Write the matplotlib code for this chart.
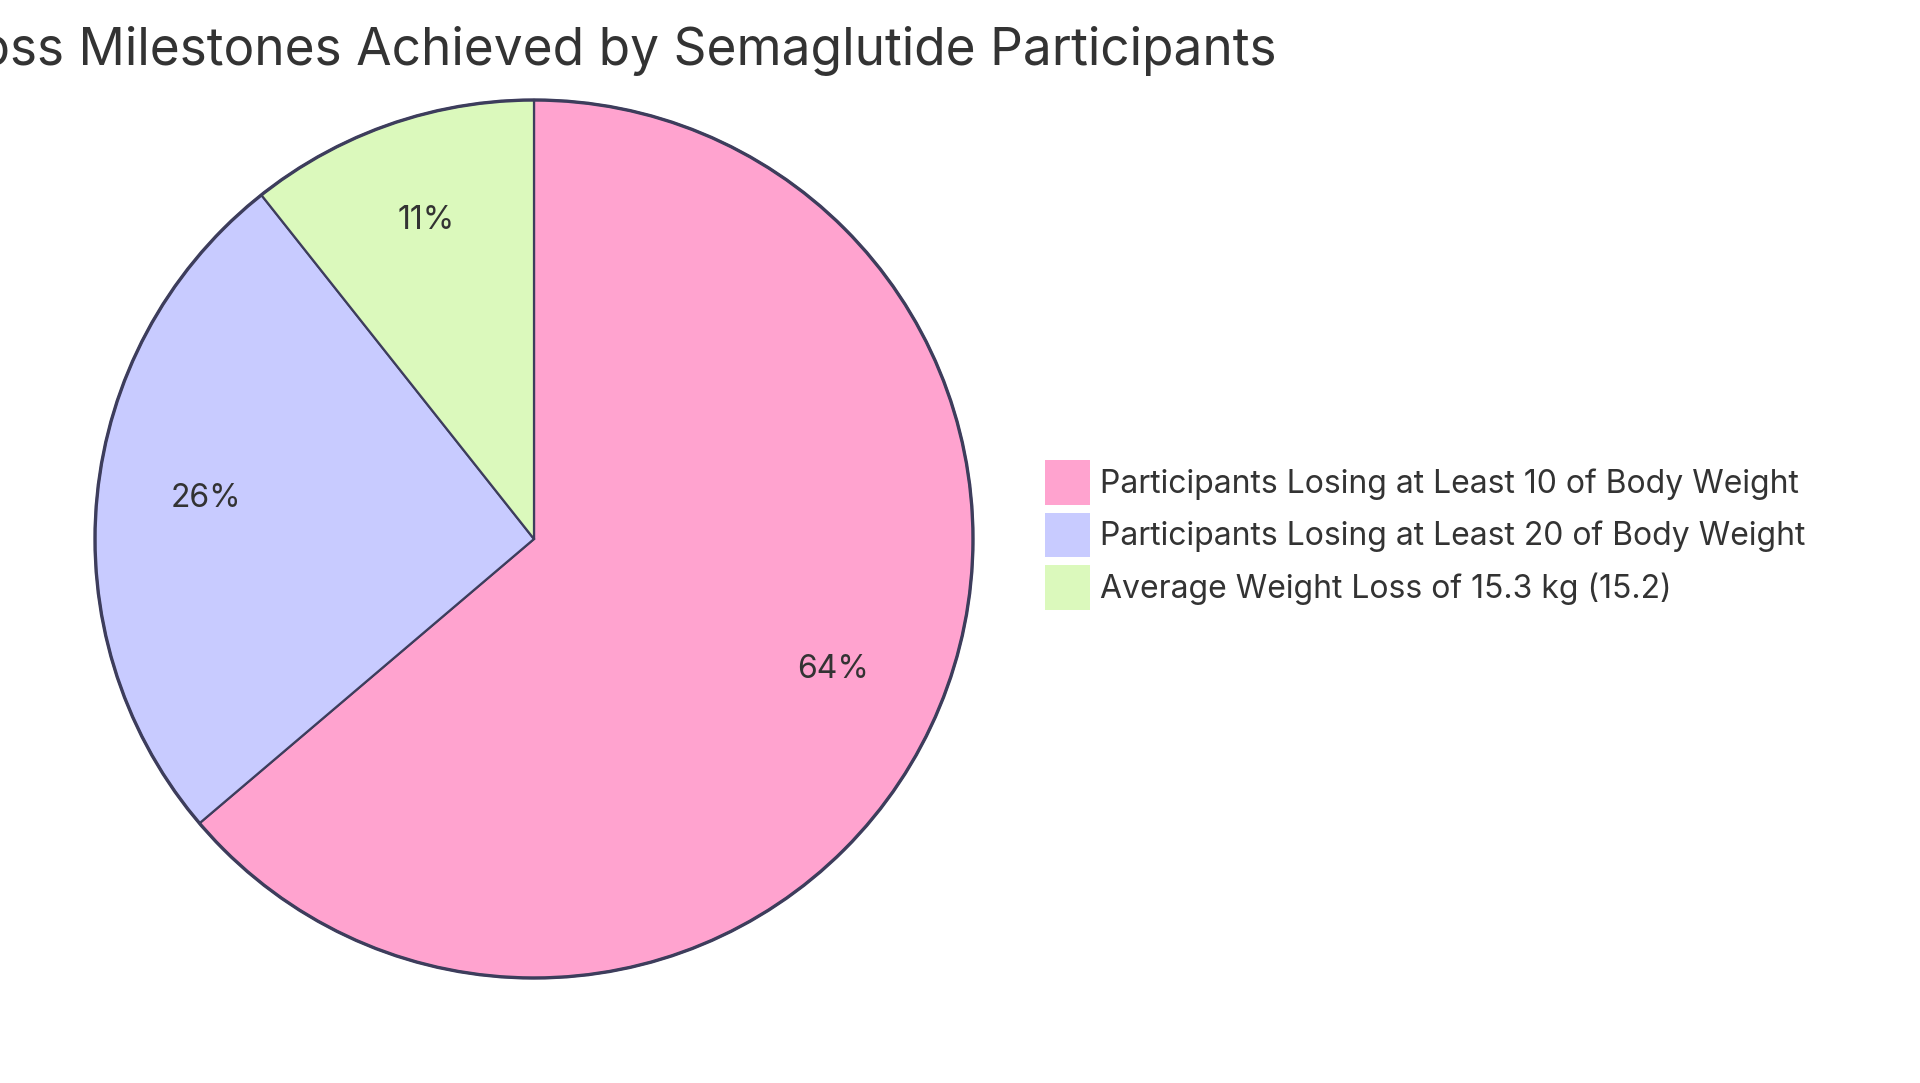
import matplotlib
matplotlib.use("Agg")
import matplotlib.pyplot as plt
from matplotlib.patches import Patch
from matplotlib.transforms import ScaledTranslation

plt.rcParams['font.family'] = ['Inter', 'DejaVu Sans']

title = "Weight Loss Milestones Achieved by Semaglutide Participants"
labels = [
    "Participants Losing at Least 10 of Body Weight",
    "Participants Losing at Least 20 of Body Weight",
    "Average Weight Loss of 15.3 kg (15.2)",
]
values = [90.9, 36.4, 15.2]
colors = ["#FFA3CF", "#C8CBFF", "#DBF9BC"]

W, H = 1920, 1083
fig = plt.figure(figsize=(W / 100, H / 100), dpi=100)
fig.patch.set_facecolor("white")

cx, cy, r = 534, 539, 439
ax = fig.add_axes([(cx - r) / W, (H - cy - r) / H, 2 * r / W, 2 * r / H])

text_color = "#333333"
edge = "#3d3d5c"

wedges, texts, autotexts = ax.pie(
    values,
    colors=colors,
    startangle=90,
    counterclock=False,
    radius=1,
    autopct=lambda p: f"{round(p)}%",
    pctdistance=0.75,
    wedgeprops=dict(edgecolor=edge, linewidth=1.6),
    textprops=dict(fontsize=23, color=text_color),
)
for t in autotexts:
    t.set_transform(ax.transData + ScaledTranslation(0, 8 / 100, fig.dpi_scale_trans))

circle = plt.Circle((0, 0), 1, fill=False, edgecolor=edge, linewidth=2.4, clip_on=False)
ax.add_patch(circle)
for w in wedges:
    w.set_clip_on(False)
ax.set_xlim(-1, 1)
ax.set_ylim(-1, 1)
ax.set_aspect("equal")
ax.axis("off")

handles = [Patch(facecolor=c, edgecolor="none") for c in colors]
leg = fig.legend(
    handles, labels,
    loc="upper left",
    bbox_to_anchor=(1045 / W, 1 - 460 / H),
    frameon=False,
    fontsize=23,
    handlelength=1.41,
    handleheight=1.79,
    handletextpad=0.3,
    labelspacing=0.235,
    borderpad=0,
    borderaxespad=0,
    labelcolor=text_color,
)

fig.text(1276 / W, 1 - 65 / H, title, ha="right", va="baseline",
         fontsize=37, color=text_color)

fig.savefig("out.png", dpi=100, facecolor="white")
